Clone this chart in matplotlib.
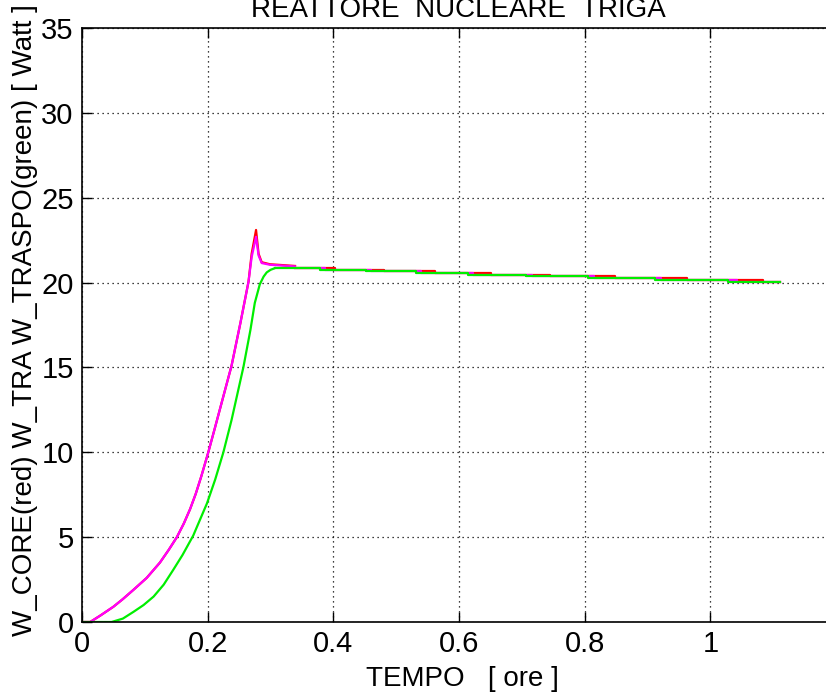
import matplotlib
matplotlib.use("Agg")
from matplotlib import pyplot as plt

plt.rcParams["font.family"] = ["Liberation Sans", "DejaVu Sans"]

# rising part of the curves (tempo [ore], potenza [Watt])
core_rise_x = [0.0, 0.013, 0.03, 0.05, 0.065, 0.082, 0.103, 0.124, 0.138, 0.151, 0.162,
               0.172, 0.181, 0.190, 0.201, 0.212, 0.225, 0.238, 0.252, 0.265, 0.270,
               0.277, 0.281, 0.286, 0.299, 0.339]
core_rise_y = [0.0, 0.0, 0.4, 0.9, 1.35, 1.9, 2.6, 3.5, 4.25, 5.0, 5.8,
               6.65, 7.55, 8.6, 10.0, 11.5, 13.3, 15.1, 17.6, 20.05, 21.7,
               23.1, 21.7, 21.2, 21.08, 20.98]
tra_rise_y = [0.0, 0.0, 0.4, 0.9, 1.35, 1.9, 2.6, 3.5, 4.25, 5.0, 5.8,
              6.65, 7.55, 8.6, 10.0, 11.5, 13.3, 15.1, 17.6, 20.05, 21.5,
              22.7, 21.6, 21.15, 21.05, 20.95]
traspo_rise_x = [0.0, 0.047, 0.065, 0.082, 0.098, 0.114, 0.13, 0.145, 0.16, 0.177,
                 0.199, 0.212, 0.225, 0.238, 0.257, 0.268, 0.275, 0.283, 0.289,
                 0.294, 0.300, 0.307]
traspo_rise_y = [0.0, 0.0, 0.2, 0.6, 1.0, 1.5, 2.2, 3.06, 3.95, 5.09,
                 7.0, 8.4, 10.0, 11.9, 15.04, 17.2, 18.8, 19.9, 20.35,
                 20.6, 20.75, 20.85]

# plateau: level held until the next step
plateau_levels = [20.88, 20.77, 20.67, 20.57, 20.47, 20.37, 20.27, 20.17, 20.05]
traspo_steps = [0.307, 0.379, 0.452, 0.532, 0.615, 0.707, 0.805, 0.912, 1.028, 1.111]
tra_steps = [0.339, 0.387, 0.460, 0.540, 0.623, 0.716, 0.815, 0.922, 1.042, 1.111]
core_steps = [0.339, 0.403, 0.480, 0.562, 0.651, 0.745, 0.849, 0.963, 1.084, 1.111]

x_ticks = [0, 0.2, 0.4, 0.6, 0.8, 1.0]
x_tick_labels = ["0", "0.2", "0.4", "0.6", "0.8", "1"]
y_ticks = [0, 5, 10, 15, 20, 25, 30, 35]

fig = plt.figure(figsize=(8.26, 6.96), dpi=100)
ax = fig.add_axes([82 / 826, 74 / 696, 754 / 826, 594 / 696])

lw = 1.6
ax.plot(core_rise_x, core_rise_y, color="#ff0000", linewidth=lw)
ax.step(core_steps, plateau_levels + [plateau_levels[-1]], where="post", color="#ff0000", linewidth=lw)
ax.plot(core_rise_x, tra_rise_y, color="#ff00ff", linewidth=lw)
ax.step(tra_steps, plateau_levels + [plateau_levels[-1]], where="post", color="#ff00ff", linewidth=lw)
ax.plot(traspo_rise_x, traspo_rise_y, color="#00ee00", linewidth=lw)
ax.step(traspo_steps, plateau_levels + [plateau_levels[-1]], where="post", color="#00ee00", linewidth=lw)

ax.set_xlim(0, 1.2)
ax.set_ylim(0, 35)
ax.set_xticks(x_ticks)
ax.set_xticklabels(x_tick_labels)
ax.set_yticks(y_ticks)
ax.tick_params(direction="in", length=7, width=1, labelsize=21, top=True, right=True, pad=6)
ax.grid(True, color="black", linestyle=(0, (1, 3)), linewidth=0.9)
for spine in ax.spines.values():
    spine.set_linewidth(1.2)

ax.set_xlabel("TEMPO   [ ore ]", fontsize=20)
ax.xaxis.set_label_coords(0.505, -0.074)
ax.set_ylabel("W_CORE(red) W_TRA W_TRASPO(green) [ Watt ]", fontsize=20)
ax.yaxis.set_label_coords(-0.058, 0.509)

fig.text(458 / 826, (696 - 17) / 696, "REATTORE  NUCLEARE  TRIGA", fontsize=20,
         ha="center", va="baseline")

fig.savefig("out.png", dpi=100)
